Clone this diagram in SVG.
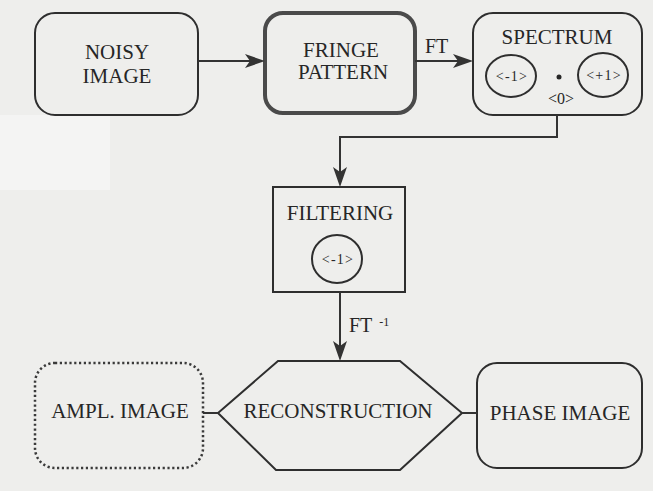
<svg xmlns="http://www.w3.org/2000/svg" width="653" height="491" viewBox="0 0 653 491">
<style>
  .box{fill:none;stroke:#2e2e2e;stroke-width:2}
  .thick{fill:none;stroke:#4a4a4a;stroke-width:4}
  .dotted{fill:none;stroke:#3a3a3a;stroke-width:2.5;stroke-dasharray:2.2 2.6}
  .conn{fill:none;stroke:#333;stroke-width:2}
  text{font-family:'Liberation Serif','DejaVu Serif','Times New Roman',serif;fill:#262626}
  .lbl{font-size:21px;text-anchor:middle}
  .sm{font-size:14px;text-anchor:middle;letter-spacing:1.2px}
  .ft{font-size:20px}
</style>
<defs>
  <marker id="ah" viewBox="0 0 20 14" refX="10" refY="7" markerWidth="20" markerHeight="14" markerUnits="userSpaceOnUse" orient="auto">
    <path d="M0,0 L20,7 L0,14 L5,7 z" fill="#333"/>
  </marker>
</defs>
<rect width="653" height="491" fill="#eeeeec"/>
<rect x="0" y="115" width="110" height="75" fill="#f4f4f3"/>

<g id="noisy-image">
  <rect class="box" x="35" y="13" width="163" height="102" rx="20"/>
  <text class="lbl" x="117" y="59" font-family="Liberation Serif, serif">NOISY</text>
  <text class="lbl" x="117" y="83" font-family="Liberation Serif, serif">IMAGE</text>
</g>
<g id="fringe-pattern">
  <rect class="thick" x="265" y="13" width="150" height="100" rx="18"/>
  <text class="lbl" x="341" y="57" font-family="Liberation Serif, serif">FRINGE</text>
  <text class="lbl" x="343" y="79" font-family="Liberation Serif, serif">PATTERN</text>
</g>
<g id="spectrum">
  <rect class="box" x="473" y="13" width="169" height="102" rx="20"/>
  <text class="lbl" x="557" y="44" font-family="Liberation Serif, serif">SPECTRUM</text>
  <ellipse class="box" cx="511" cy="76" rx="25" ry="21"/>
  <text class="sm" x="512" y="81" font-family="Liberation Serif, serif">&lt;-1&gt;</text>
  <ellipse class="box" cx="603" cy="75" rx="25" ry="22"/>
  <text class="sm" x="604" y="80" font-family="Liberation Serif, serif">&lt;+1&gt;</text>
  <circle cx="559" cy="77" r="2.5" fill="#262626"/>
  <text class="sm" x="561" y="104" font-family="Liberation Serif, serif" style="font-size:16px;letter-spacing:0px">&lt;0&gt;</text>
</g>
<g id="filtering">
  <rect class="box" x="273" y="187" width="132" height="105"/>
  <text class="lbl" x="340" y="220" font-family="Liberation Serif, serif">FILTERING</text>
  <ellipse class="box" cx="337" cy="259" rx="25" ry="24"/>
  <text class="sm" x="338" y="264" font-family="Liberation Serif, serif">&lt;-1&gt;</text>
</g>
<g id="reconstruction">
  <polygon class="box" points="278,361 400,361 462,413 400,470 276,470 218,413"/>
  <text class="lbl" x="338" y="418" font-family="Liberation Serif, serif">RECONSTRUCTION</text>
</g>
<g id="ampl-image">
  <rect class="dotted" x="35" y="363" width="168" height="105" rx="20"/>
  <text class="lbl" x="120" y="418" font-family="Liberation Serif, serif">AMPL. IMAGE</text>
</g>
<g id="phase-image">
  <rect class="box" x="477" y="363" width="165" height="105" rx="20"/>
  <text class="lbl" x="560" y="420" font-family="Liberation Serif, serif">PHASE IMAGE</text>
</g>

<g id="connectors">
  <path class="conn" d="M198,61 H255" marker-end="url(#ah)"/>
  <path class="conn" d="M415,61 H463" marker-end="url(#ah)"/>
  <text class="ft" x="425" y="53" font-family="Liberation Serif, serif">FT</text>
  <path class="conn" d="M557,115 V137 H340 V177" marker-end="url(#ah)"/>
  <path class="conn" d="M340,292 V351" marker-end="url(#ah)"/>
  <text class="ft" x="349" y="332" font-family="Liberation Serif, serif">FT<tspan dx="7" dy="-6" font-size="12">-1</tspan></text>
  <path class="conn" d="M203,413 H218"/>
  <path class="conn" d="M462,413 H477"/>
</g>
</svg>
